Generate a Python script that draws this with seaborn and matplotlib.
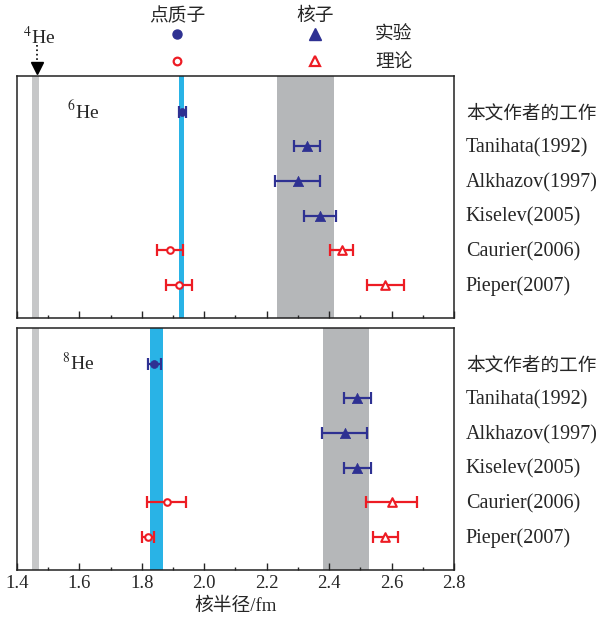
import numpy as np
import pandas as pd
import matplotlib
matplotlib.use("Agg")
import matplotlib.pyplot as plt
import matplotlib.transforms as mtransforms
import seaborn as sns

# rows, top to bottom
labels = ["本文作者的工作", "Tanihata(1992)", "Alkhazov(1997)",
          "Kiselev(2005)", "Caurier(2006)", "Pieper(2007)"]
is_theory = [False, False, False, False, True, True]

# 6He: point-proton radius and matter (nucleon) radius, fm
he6_point = [1.93, np.nan, np.nan, np.nan, 1.89, 1.92]
he6_point_err = [0.012, np.nan, np.nan, np.nan, 0.043, 0.042]
he6_matter = [np.nan, 2.33, 2.30, 2.37, 2.44, 2.58]
he6_matter_err = [np.nan, 0.042, 0.072, 0.052, 0.038, 0.060]

# 8He
he8_point = [1.84, np.nan, np.nan, np.nan, 1.88, 1.82]
he8_point_err = [0.02, np.nan, np.nan, np.nan, 0.062, 0.02]
he8_matter = [np.nan, 2.49, 2.45, 2.49, 2.60, 2.58]
he8_matter_err = [np.nan, 0.043, 0.072, 0.043, 0.082, 0.041]

# shaded bands (lo, hi)
he4_band = (1.449, 1.469)
he6_point_band = (1.918, 1.936)
he6_matter_band = (2.234, 2.415)
he8_point_band = (1.825, 1.867)
he8_matter_band = (2.379, 2.527)

navy = "#2e3192"
red = "#ed1c24"
cyan = "#29b3e6"
grey = "#b5b7b9"

sns.set_style("white")
plt.rcParams["font.family"] = ["Liberation Serif", "Noto Sans CJK SC", "DejaVu Sans"]
plt.rcParams["mathtext.fontset"] = "stix"

fig = plt.figure(figsize=(5.99, 6.23), dpi=100)
ax1 = fig.add_axes([0.0284, 0.4896, 0.7295, 0.388])
ax2 = fig.add_axes([0.0284, 0.0851, 0.7295, 0.388])


def panel(ax, point, point_err, matter, matter_err, pband, mband, name, name_x):
    df = pd.DataFrame({"row": np.arange(len(labels)), "label": labels,
                       "theory": is_theory,
                       "point": point, "point_err": point_err,
                       "matter": matter, "matter_err": matter_err})
    ax.axvspan(*he4_band, color="#c6c7c8", lw=0, zorder=0)
    ax.axvspan(*pband, color=cyan, lw=0, zorder=0)
    ax.axvspan(*mband, color=grey, lw=0, zorder=0)

    for theory, col in [(False, navy), (True, red)]:
        sub = df[df["theory"] == theory]
        for val, err in [("point", "point_err"), ("matter", "matter_err")]:
            s = sub.dropna(subset=[val])
            if s.empty:
                continue
            ax.errorbar(s[val], s["row"], xerr=s[err], fmt="none", ecolor=col,
                        elinewidth=1.6, capsize=4.5, capthick=1.6, zorder=2)
            mk = "o" if val == "point" else "^"
            size = 32 if mk == "o" else 55
            if theory:
                sns.scatterplot(data=s, x=val, y="row", ax=ax, marker=mk, s=size * 0.7,
                                facecolor="white", edgecolor=col, linewidth=1.5,
                                zorder=3, legend=False)
            else:
                sns.scatterplot(data=s, x=val, y="row", ax=ax, marker=mk, s=size,
                                color=col, edgecolor=col, linewidth=0.5,
                                zorder=3, legend=False)

    tr = mtransforms.blended_transform_factory(ax.transAxes, ax.transData)
    for i, lab in enumerate(labels):
        ax.text(1.027, i + 0.05, lab, transform=tr, va="center", ha="left",
                fontsize=13.4 if i == 0 else 14.5, clip_on=False)
    ax.text(name_x, -0.02, name, va="center", ha="left", fontsize=14)

    ax.set_xlim(1.4, 2.8)
    ax.set_ylim(5.96, -1.03)
    ax.set_yticks([])
    ax.set_xticks(np.arange(1.4, 2.81, 0.2))
    ax.set_xticks(np.arange(1.5, 2.8, 0.2), minor=True)
    ax.tick_params(axis="x", which="major", direction="in", length=5, width=1, bottom=True)
    ax.tick_params(axis="x", which="minor", direction="in", length=2.5, width=1, bottom=True)
    ax.set_xlabel("")
    ax.set_ylabel("")
    for sp in ax.spines.values():
        sp.set_color("#222222")
        sp.set_linewidth(1.1)


panel(ax1, he6_point, he6_point_err, he6_matter, he6_matter_err,
      he6_point_band, he6_matter_band, r"$^{6}$He", 1.56)
panel(ax2, he8_point, he8_point_err, he8_matter, he8_matter_err,
      he8_point_band, he8_matter_band, r"$^{8}$He", 1.545)

ax1.set_xticklabels([])
ax2.set_xticklabels([f"{v:.1f}" for v in np.arange(1.4, 2.81, 0.2)], fontsize=13.5)
ax2.set_xlabel("核半径/fm", fontsize=13.5, labelpad=4)

# 4He marker above the top panel
tr = mtransforms.blended_transform_factory(ax1.transData, ax1.transAxes)
he4_x = np.mean(he4_band) + 0.005
ax1.plot([he4_x, he4_x], [1.128, 1.06], ls=":", color="k", lw=1.2, transform=tr, clip_on=False)
ax1.plot([he4_x], [1.035], marker="v", ms=8, color="k", transform=tr, clip_on=False)
fig.text(0.066, 0.94, r"$^{4}$He", ha="center", va="center", fontsize=14)

# legend block
fig.text(0.2955, 0.974, "点质子", ha="center", va="center", fontsize=13.5)
fig.text(0.526, 0.974, "核子", ha="center", va="center", fontsize=13.5)
fig.text(0.626, 0.944, "实验", ha="left", va="center", fontsize=13.5)
fig.text(0.626, 0.899, "理论", ha="left", va="center", fontsize=13.5)
fig.lines.append(plt.Line2D([0.2955], [0.9454], marker="o", ms=6.5, color=navy, ls="none",
                            transform=fig.transFigure))
fig.lines.append(plt.Line2D([0.526], [0.9454], marker="^", ms=8, color=navy, ls="none",
                            transform=fig.transFigure))
fig.lines.append(plt.Line2D([0.2955], [0.902], marker="o", ms=5.5, mfc="white", mec=red, mew=1.6,
                            ls="none", transform=fig.transFigure))
fig.lines.append(plt.Line2D([0.526], [0.902], marker="^", ms=7, mfc="white", mec=red, mew=1.6,
                            ls="none", transform=fig.transFigure))

fig.savefig("out.png", dpi=100)
